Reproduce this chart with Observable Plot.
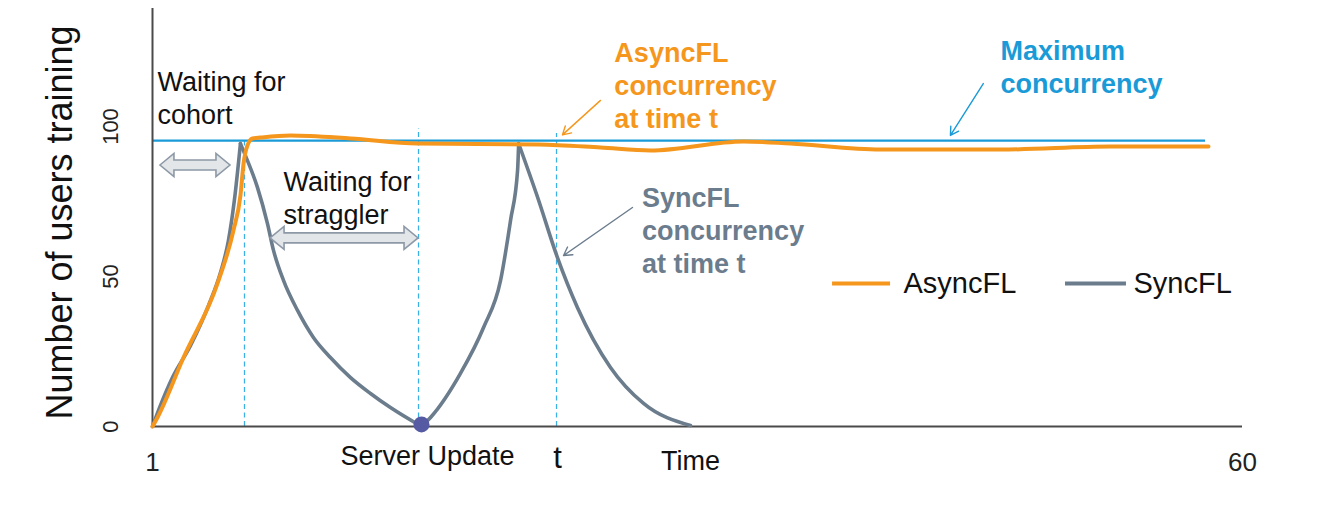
<!DOCTYPE html>
<html>
<head>
<meta charset="utf-8">
<script src="https://cdn.jsdelivr.net/npm/d3@7"></script>
<script src="https://cdn.jsdelivr.net/npm/@observablehq/plot@0.6"></script>
<style>
  html, body { margin: 0; padding: 0; background: #fff; }
  #chart { width: 1319px; height: 505px; }
</style>
</head>
<body>
<div id="chart"></div>
<script>
// ---------- data ----------
const xTicks = [1, 60];
const yTicks = [0, 50, 100];

// AsyncFL concurrency over time
const asyncTime  = [1, 1.27, 2.68, 4.52, 5.38, 5.76, 5.93, 6.14, 6.41, 6.85, 8.47, 11.72, 15.34, 21.92, 25.25, 27.96, 32.99, 35.53, 40.41, 46.9, 52.85, 58.16];
const asyncUsers = [0, 3, 23, 47.7, 65.3, 77, 87.7, 93.7, 96, 96.3, 97, 96, 94.3, 94, 93, 92, 95, 94.3, 92.3, 92.3, 93.3, 93.3];

// SyncFL concurrency over time (four phases: fill, straggler drain, fill, drain)
const syncTime  = [1, 1.43, 2.08, 3.06, 4.03, 4.68, 5.11, 5.43, 5.76,
                   5.76, 6.03, 6.68, 7.22, 7.55, 8.09, 8.85, 9.71, 10.63, 11.72, 12.80, 13.88, 15.56,
                   15.56, 16.05, 17.67, 18.92, 19.84, 20.38, 20.76, 20.82,
                   20.82, 21.84, 22.92, 24.0, 25.79, 27.58, 30.12];
const syncUsers = [0, 7, 16.3, 27, 40.3, 51.3, 62, 75.3, 94.3,
                   94.3, 90.3, 79.7, 67.7, 58.7, 48.7, 38.7, 29.7, 23, 16.3, 11, 6.3, 0,
                   0, 3, 17.7, 33, 48.7, 68.7, 85.3, 94.3,
                   94.3, 76.5, 56.3, 39.7, 19.7, 7.7, 0.3];
const syncPhase = [..."AAAAAAAAA", ..."BBBBBBBBBBBBB", ..."CCCCCCCC", ..."DDDDDDD"];

const maxConcurrency = 95.3;
const maxSpan = [1, 58.0];

// marker times (dashed verticals) and their top values
const markerTime = [5.98, 15.40, 22.87];
const markerTop  = [95.3, 99.3, 97.7];

const serverUpdate = {time: 15.56, users: 0.7};

const seriesNames = ["AsyncFL", "SyncFL"];

// ---------- styles / layout ----------
const ORANGE = "#f5961d", GRAY = "#6b7c8d", BLUE = "#1a9bd7", DASH = "#3cb0e4", DOT = "#565aa3";
const FONT = "'Liberation Sans', Arial, Helvetica, sans-serif";

const asyncData = asyncTime.map((t, i) => ({t, u: asyncUsers[i]}));
const syncData = syncTime.map((t, i) => ({t, u: syncUsers[i], phase: syncPhase[i]}));
const markers = markerTime.map((t, i) => ({t, top: markerTop[i]}));

const plainNotes = [
  {text: "Waiting for\ncohort", x: 1.27, y: 119.7},
  {text: "Waiting for\nstraggler", x: 8.09, y: 86.3}
];
const boldNotes = [
  {text: "AsyncFL\nconcurrency\nat time t", x: 26.0, y: 129.3, color: ORANGE},
  {text: "Maximum\nconcurrency", x: 46.9, y: 130, color: BLUE},
  {text: "SyncFL\nconcurrency\nat time t", x: 27.5, y: 81, color: GRAY}
];
const pointers = [
  {x1: 25.25, y1: 108.7, x2: 23.19, y2: 97.2, color: ORANGE},
  {x1: 45.97, y1: 114.3, x2: 44.19, y2: 97.0, color: BLUE},
  {x1: 26.98, y1: 73.0, x2: 23.25, y2: 57.0, color: GRAY}
];
const spans = [
  {x1: 1.43, x2: 5.22, y: 87},
  {x1: 7.39, x2: 15.40, y: 62.7}
];
const legend = [
  {name: seriesNames[0], x1: 37.81, x2: 40.95, tx: 41.65, color: ORANGE},
  {name: seriesNames[1], x1: 50.42, x2: 53.72, tx: 54.1, color: GRAY}
];
const legendY = 47.67;

const svgns = "http://www.w3.org/2000/svg";
function blockArrows(list) {
  return (index, scales) => {
    const g = document.createElementNS(svgns, "g");
    for (const s of list) {
      const X1 = scales.x(s.x1), X2 = scales.x(s.x2), Y = scales.y(s.y);
      const hl = 14, hh = 11.5, sh = 5;
      const d = `M${X1},${Y}L${X1 + hl},${Y - hh}L${X1 + hl},${Y - sh}L${X2 - hl},${Y - sh}L${X2 - hl},${Y - hh}L${X2},${Y}L${X2 - hl},${Y + hh}L${X2 - hl},${Y + sh}L${X1 + hl},${Y + sh}L${X1 + hl},${Y + hh}Z`;
      const p = document.createElementNS(svgns, "path");
      p.setAttribute("d", d);
      p.setAttribute("fill", "#e3e6e9");
      p.setAttribute("stroke", "#8d99a6");
      p.setAttribute("stroke-width", "1.6");
      g.appendChild(p);
    }
    return g;
  };
}

const chart = Plot.plot({
  width: 1319,
  height: 505,
  marginLeft: 152,
  marginRight: 77,
  marginTop: 8,
  marginBottom: 79,
  style: {fontFamily: FONT, background: "#fff", color: "#111"},
  x: {domain: [1, 60]},
  y: {domain: [0, 139.33], axis: null},
  marks: [
    Plot.ruleX(markers, {x: "t", y1: 0, y2: "top", stroke: DASH, strokeWidth: 1.3, strokeDasharray: "5,3.5"}),
    Plot.ruleY([maxConcurrency], {x1: maxSpan[0], x2: maxSpan[1], stroke: BLUE, strokeWidth: 2.2}),
    Plot.ruleX([1], {y1: 0, y2: 139.33, stroke: "#4a4a4a", strokeWidth: 2}),
    Plot.ruleY([0], {x1: 1, x2: 60, stroke: "#4a4a4a", strokeWidth: 2}),
    Plot.line(syncData, {x: "t", y: "u", z: "phase", stroke: GRAY, strokeWidth: 3.6, curve: "monotone-x", strokeLinejoin: "round"}),
    Plot.line(asyncData, {x: "t", y: "u", stroke: ORANGE, strokeWidth: 4, curve: "monotone-x"}),
    Plot.dot([serverUpdate], {x: "time", y: "users", r: 8, fill: DOT}),
    blockArrows(spans),
    Plot.arrow(pointers, {x1: "x1", y1: "y1", x2: "x2", y2: "y2", stroke: "color", strokeWidth: 1.4, headLength: 10, bend: 0}),
    Plot.text(plainNotes, {x: "x", y: "y", text: "text", fill: "#111", fontSize: 27, textAnchor: "start", lineAnchor: "top", lineHeight: 1.22}),
    Plot.text(boldNotes, {x: "x", y: "y", text: "text", fill: "color", fontWeight: "bold", fontSize: 27, textAnchor: "start", lineAnchor: "top", lineHeight: 1.22}),
    Plot.ruleY(legend, {y: () => legendY, x1: "x1", x2: "x2", stroke: "color", strokeWidth: 4}),
    Plot.text(legend, {x: "tx", y: () => legendY, text: "name", fill: "#111", fontSize: 29, textAnchor: "start", lineAnchor: "middle"}),
    Plot.text(yTicks, {x: () => 1, y: d => d, text: d => String(d), dx: -42, rotate: -90, fontSize: 22, fill: "#222", lineAnchor: "middle", textAnchor: "middle"}),
    Plot.text(["Number of users training"], {x: () => 1, y: () => 68, dx: -92, rotate: -90, fontSize: 36, fill: "#111", textAnchor: "middle", lineAnchor: "middle"}),
    Plot.axisX(xTicks, {tickSize: 0, tickPadding: 26, fontSize: 26, label: null, fill: "#222"}),
    Plot.text(["Server Update"], {x: () => 15.89, y: () => 0, dy: 19, fontSize: 27, fill: "#111", lineAnchor: "top", textAnchor: "middle"}),
    Plot.text(["t"], {x: () => 22.92, y: () => 0, dy: 19, fontSize: 31, fill: "#111", lineAnchor: "top", textAnchor: "middle"}),
    Plot.text(["Time"], {x: () => 30.12, y: () => 0, dy: 24, fontSize: 27, fill: "#111", lineAnchor: "top", textAnchor: "middle"})
  ]
});
document.getElementById("chart").appendChild(chart);
</script>
</body>
</html>
